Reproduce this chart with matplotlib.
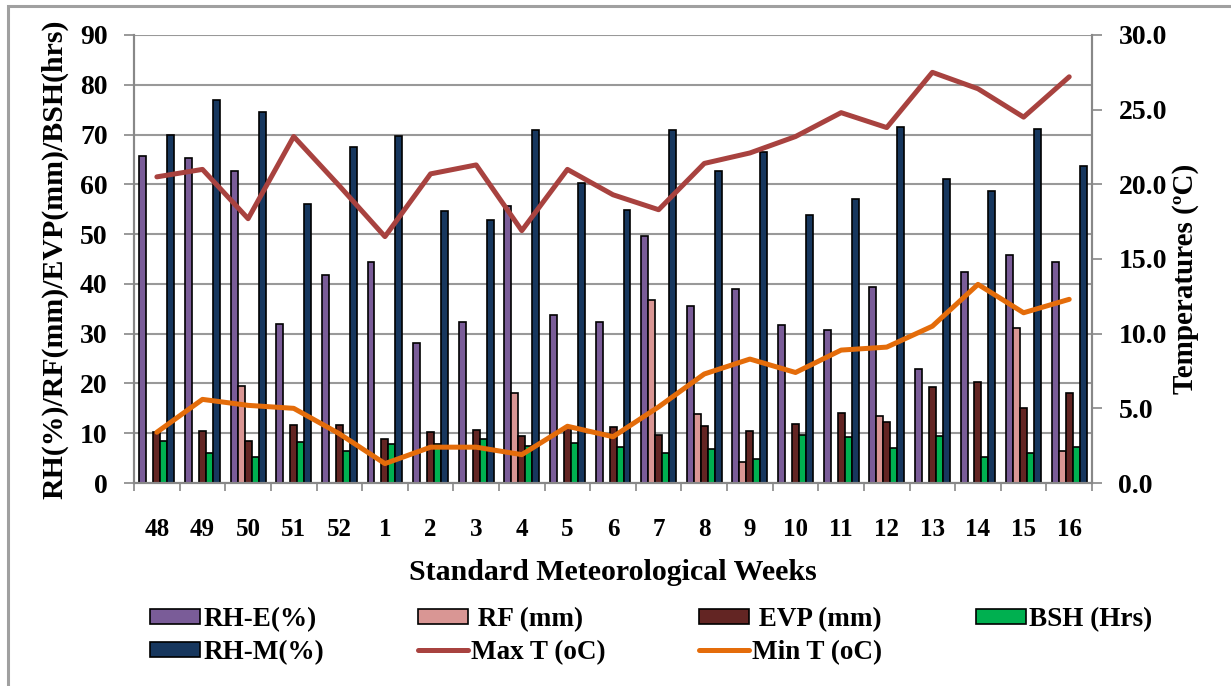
import numpy as np
import matplotlib.pyplot as plt
from matplotlib.patches import Rectangle

weeks = ['48', '49', '50', '51', '52', '1', '2', '3', '4', '5', '6',
         '7', '8', '9', '10', '11', '12', '13', '14', '15', '16']

rh_e = [65.7, 65.3, 62.7, 31.9, 41.8, 44.3, 28.1, 32.3, 55.6, 33.7, 32.4,
        49.7, 35.5, 38.9, 31.7, 30.8, 39.4, 22.9, 42.4, 45.8, 44.4]
rf = [0, 0, 19.5, 0, 0, 0, 0, 0, 18.1, 0, 0,
      36.7, 13.8, 4.2, 0, 0, 13.5, 0, 0, 31.2, 6.4]
evp = [10.2, 10.4, 8.5, 11.6, 11.6, 8.9, 10.2, 10.7, 9.4, 11.0, 11.2,
       9.6, 11.4, 10.5, 11.8, 14.1, 12.2, 19.2, 20.3, 15.1, 18.1]
bsh = [8.5, 6.1, 5.2, 8.3, 6.5, 7.9, 7.9, 8.8, 7.4, 8.1, 7.3,
       6.0, 6.9, 4.8, 9.6, 9.2, 7.0, 9.5, 5.2, 6.1, 7.3]
rh_m = [70.0, 76.9, 74.6, 56.1, 67.5, 69.7, 54.6, 52.8, 70.9, 60.2, 54.9,
        70.9, 62.6, 66.4, 53.9, 57.1, 71.6, 61.0, 58.6, 71.2, 63.7]
max_t = [20.5, 21.0, 17.7, 23.2, 19.9, 16.5, 20.7, 21.3, 16.9, 21.0, 19.3,
         18.3, 21.4, 22.1, 23.2, 24.8, 23.8, 27.5, 26.4, 24.5, 27.2]
min_t = [3.4, 5.6, 5.2, 5.0, 3.3, 1.3, 2.4, 2.4, 1.9, 3.8, 3.1,
         5.1, 7.3, 8.3, 7.4, 8.9, 9.1, 10.5, 13.3, 11.4, 12.3]

bar_series = [
    (rh_e, '#7A5C98', 'RH-E(%)'),
    (rf, '#D99694', ' RF (mm)'),
    (evp, '#632523', ' EVP (mm)'),
    (bsh, '#00B050', 'BSH (Hrs)'),
    (rh_m, '#17375E', 'RH-M(%)'),
]

plt.rcParams['font.family'] = 'Liberation Serif'
plt.rcParams['font.weight'] = 'bold'
plt.rcParams['axes.labelweight'] = 'bold'

fig = plt.figure(figsize=(12.31, 6.86), dpi=100)
ax = fig.add_axes([0.1089, 0.2959, 0.7782, 0.6531])
ax2 = ax.twinx()

# grey frame round the whole chart
fig.patches.append(Rectangle((8 / 1231, -0.05), 1.1, 1 - 6 / 686 + 0.05,
                             transform=fig.transFigure, fill=False,
                             edgecolor='#A0A0A0', linewidth=2.2))

x = np.arange(len(weeks))
w = 0.153
bars = []
for i, (vals, col, lab) in enumerate(bar_series):
    b = ax.bar(x + (i - 2) * w, vals, width=w, color=col, edgecolor='black',
               linewidth=1.2, label=lab, zorder=2)
    bars.append(b)

l1, = ax2.plot(x, max_t, color='#A8423F', linewidth=3.6, label='Max T (oC)',
               solid_capstyle='round', zorder=3)
l2, = ax2.plot(x, min_t, color='#E46C0A', linewidth=3.6, label='Min T (oC)',
               solid_capstyle='round', zorder=3)

ax.set_xlim(-0.5, len(weeks) - 0.5)
ax.set_ylim(0, 90)
ax.set_yticks(np.arange(0, 91, 10))
ax2.set_ylim(0, 30)
ax2.set_yticks(np.arange(0, 31, 5))
ax2.set_yticklabels(['%.1f' % v for v in np.arange(0, 31, 5)])

ax.set_xticks(x)
ax.set_xticklabels(weeks)
ax.set_xticks(np.arange(-0.5, len(weeks), 1), minor=True)
ax.tick_params(axis='x', which='major', length=0, pad=25, labelsize=18)
ax.tick_params(axis='x', which='minor', length=6, color='#888888', width=1.2)
ax.tick_params(axis='y', length=7, color='#888888', width=1.2, pad=12, labelsize=20)
ax2.tick_params(axis='y', length=7, color='#888888', width=1.2, pad=12, labelsize=20)

ax.yaxis.grid(True, color='#999999', linewidth=1.5, zorder=0)
ax.set_axisbelow(True)
for a in (ax, ax2):
    for s in a.spines.values():
        s.set_color('#888888')
        s.set_linewidth(1.5)
ax.spines['top'].set_visible(False)
ax2.spines['top'].set_visible(False)

ax.set_xlabel('Standard Meteorological Weeks', fontsize=21.5, labelpad=13)
ax.set_ylabel('RH(%)/RF(mm)/EVP(mm)/BSH(hrs)', fontsize=21.5, labelpad=8)
ax2.set_ylabel('Temperatures (ºC)', fontsize=21)
ax2.yaxis.set_label_coords(1.083, 0.455)

handles = [bars[0], bars[4], bars[1], l1, bars[2], l2, bars[3]]
labels = [h.get_label() for h in handles]
fig.legend(handles, labels, ncol=4, loc='upper left',
           bbox_to_anchor=(150 / 1231, 1 - 607 / 686), frameon=False,
           borderpad=0, borderaxespad=0,
           fontsize=19.5, handlelength=1.85, handleheight=0.5, handletextpad=0.12,
           columnspacing=3.45, labelspacing=0.3)

fig.savefig('out.png', dpi=100)
